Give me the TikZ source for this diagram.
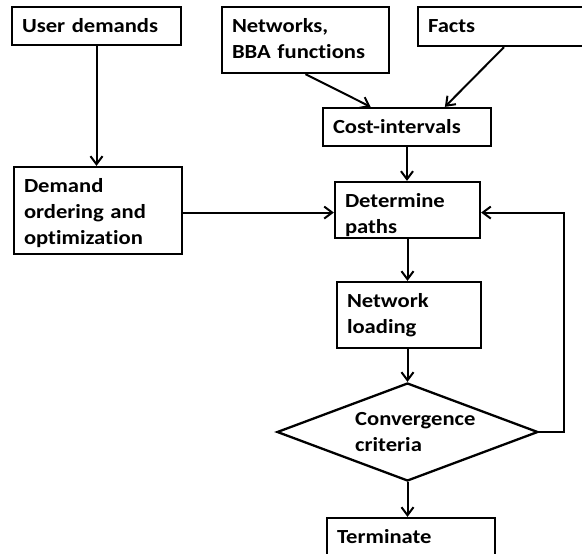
\documentclass[tikz,border=0pt]{standalone}
\usepackage{fontspec}
\setmainfont{Carlito}[FakeStretch=1.13,Ligatures=CommonOff]
\usepackage{tikz}
\usetikzlibrary{arrows.meta,shapes.geometric}

\begin{document}
\begin{tikzpicture}[x=1pt,y=-1pt,font=\fontsize{20}{26}\selectfont\bfseries]
		\useasboundingbox (0,0) rectangle (582,554);
		\clip (0,0) rectangle (582,554);

		\begin{scope}[every node/.style={rectangle,draw,line width=2.3pt,
		              inner xsep=10pt,inner ysep=0pt,text height=25pt,align=left}]
		    \node[text width=149pt,text depth=13pt] (user) at (96.5,26) {User demands};
		    \node[text width=148pt,text depth=62pt] (demand) at (98,210.5) {Demand\\ordering and\\optimization};
		    \node[text width=147pt,text depth=41pt] (networks) at (305.5,40) {Networks,\\BBA functions};
		    \node[text width=152pt,text depth=14pt] (facts) at (504,26.5) {Facts};
		    \node[text width=148pt,text depth=13pt] (cost) at (407,127) {Cost-intervals};
		    \node[text width=125pt,text depth=31pt] (paths) at (407.5,210) {Determine\\paths};
		    \node[text width=124pt,text depth=41pt] (loading) at (409,315) {Network\\loading};
		    \node[text width=148pt,text depth=13pt] (term) at (411,537) {Terminate};
		    \node[diamond,aspect=2.66,inner sep=0pt,text height=0pt,minimum width=261pt,
		          minimum height=98pt] (conv) at (407.5,432) {};
		\end{scope}
		\node[anchor=base west,inner sep=0pt,text width=130pt,align=left] (convtext) at (355,425) {Convergence\\criteria};

		\begin{scope}[>={Straight Barb[length=8pt,width=12pt]},
		              line width=2pt,
		              every edge/.style={draw=black}]
		    \path [->] (user.south) edge (user.south |- demand.north);
		    \path [->] (demand.east |- paths.182.4) edge (paths.182.4);
		    \path [->] (networks.south) edge (cost.151);
		    \path [->] (facts.south) edge (cost.28);
		    \path [->] (cost.south) edge (cost.south |- paths.north);
		    \path [->] (paths.south) edge (paths.south |- loading.north);
		    \path [->] (conv.north |- loading.south) edge (conv.north);
		    \path [->] (conv.south) edge (conv.south |- term.north);
		    \draw [->] (conv.east) -- ++(25,0) |- (paths.-2.4);
		\end{scope}
\end{tikzpicture}
\end{document}
